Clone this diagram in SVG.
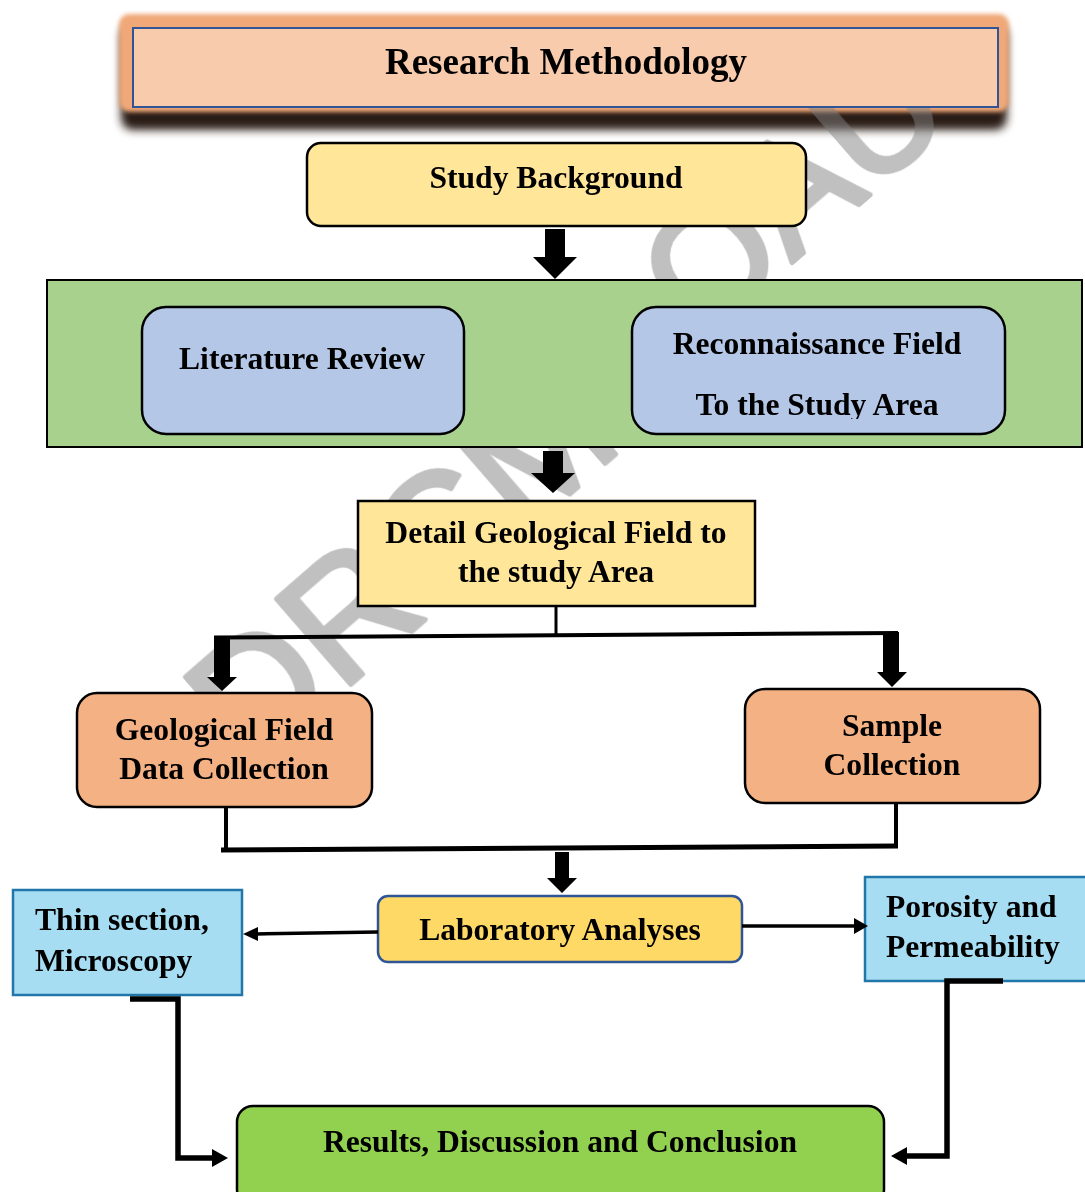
<svg xmlns="http://www.w3.org/2000/svg" width="1085" height="1192" viewBox="0 0 1085 1192">
<defs>
<style>
.t{font-family:"Liberation Serif","Times New Roman",serif;font-weight:bold;font-size:31.6px;fill:#000}
.c{text-anchor:middle}
.k{stroke:#000;stroke-width:2.5}
.ln{fill:none;stroke:#000}
.blk{fill:#000;stroke:none}
.wm{font-family:"Liberation Sans",Arial,sans-serif;font-size:166px;fill:#808080;stroke:#808080;stroke-width:5;stroke-linejoin:round}
</style>
<filter id="b4" x="-10%" y="-50%" width="120%" height="200%"><feGaussianBlur stdDeviation="4"/></filter>
<filter id="b2" x="-10%" y="-50%" width="120%" height="200%"><feGaussianBlur stdDeviation="2"/></filter>
<clipPath id="rc"><rect x="632" y="306" width="373" height="113"/></clipPath>
</defs>
<rect width="1085" height="1192" fill="#fff"/>
<g id="title-shadow">
<rect x="121" y="24" width="886" height="106" rx="12" fill="#2a1e16" filter="url(#b4)"/>
<rect x="119" y="14" width="890" height="98" rx="10" fill="#F0A878" filter="url(#b2)"/>
</g>
<g id="watermark" opacity="0.5">
<text class="wm" transform="translate(250,772) rotate(-41)">DRCM</text>
<text class="wm" transform="translate(700,342) rotate(-41)" style="font-size:156px">QAU</text>
</g>
<g id="title">
<rect x="133" y="28" width="865" height="79" fill="#F8CBAD" stroke="#2F5597" stroke-width="2"/>
<text class="t c" x="566" y="74" style="font-size:37px">Research Methodology</text>
</g>
<g id="study-background">
<rect class="k" x="307" y="143" width="499" height="83" rx="14" fill="#FFE699"/>
<text class="t c" x="556" y="188">Study Background</text>
</g>
<g id="preliminary">
<rect x="47" y="280" width="1035" height="167" fill="#A9D18E" stroke="#000" stroke-width="2"/>
</g>
<g id="literature-review">
<rect class="k" x="142" y="307" width="322" height="127" rx="24" fill="#B4C7E7"/>
<text class="t c" x="302" y="369">Literature Review</text>
</g>
<g id="reconnaissance">
<rect class="k" x="632" y="307" width="373" height="127" rx="24" fill="#B4C7E7"/>
<text class="t c" x="817" y="354">Reconnaissance Field</text>
<text class="t c" x="817" y="415" clip-path="url(#rc)">To the Study Area</text>
</g>
<g id="detail-field">
<rect class="k" x="358" y="501" width="397" height="105" fill="#FFE699"/>
<text class="t c" x="556" y="543">Detail Geological Field to</text>
<text class="t c" x="556" y="582">the study Area</text>
</g>
<g id="field-data">
<rect class="k" x="77" y="693" width="295" height="114" rx="20" fill="#F4B183"/>
<text class="t c" x="224" y="740">Geological Field</text>
<text class="t c" x="224" y="779">Data Collection</text>
</g>
<g id="sample-collection">
<rect class="k" x="745" y="689" width="295" height="114" rx="20" fill="#F4B183"/>
<text class="t c" x="892" y="736">Sample</text>
<text class="t c" x="892" y="775">Collection</text>
</g>
<g id="laboratory">
<rect x="378" y="896" width="364" height="66" rx="10" fill="#FFD966" stroke="#2F5597" stroke-width="2.5"/>
<text class="t c" x="560" y="940">Laboratory Analyses</text>
</g>
<g id="thin-section">
<rect x="13" y="890" width="229" height="105" fill="#A6DDF3" stroke="#2277AA" stroke-width="2.5"/>
<text class="t" x="35" y="930">Thin section,</text>
<text class="t" x="35" y="971">Microscopy</text>
</g>
<g id="porosity">
<rect x="865" y="877" width="226" height="104" fill="#A6DDF3" stroke="#2277AA" stroke-width="2.5"/>
<text class="t" x="886" y="917">Porosity and</text>
<text class="t" x="886" y="957">Permeability</text>
</g>
<g id="results">
<rect class="k" x="237" y="1106" width="647" height="100" rx="16" fill="#92D050"/>
<text class="t c" x="560" y="1152">Results, Discussion and Conclusion</text>
</g>
<g id="connectors">
<polygon class="blk" points="545,229 565,229 565,257 577,257 555,279 533,257 545,257"/>
<polygon class="blk" points="543,451 563,451 563,473 575,473 553,493 531,473 543,473"/>
<line class="ln" x1="556" y1="607" x2="556" y2="637" stroke-width="3"/>
<path class="ln" d="M214,637.5 L898,633" stroke-width="4"/>
<polygon class="blk" points="214,636 230,636 230,677 237,677 222,691 207,677 214,677"/>
<polygon class="blk" points="883,632 899,632 899,672 907,672 892,687 877,672 883,672"/>
<line class="ln" x1="226" y1="807" x2="226" y2="849" stroke-width="4"/>
<line class="ln" x1="896" y1="803" x2="896" y2="846" stroke-width="4"/>
<path class="ln" d="M221,850 L898,846" stroke-width="5"/>
<polygon class="blk" points="555,852 569,852 569,878 577,878 562,893 547,878 555,878"/>
<path class="ln" d="M378,932 L256,934" stroke-width="3.5"/>
<polygon class="blk" points="243,934 258,927 258,941"/>
<path class="ln" d="M742,926 L855,926" stroke-width="3.5"/>
<polygon class="blk" points="868,926 854,918 854,934"/>
<path class="ln" d="M130,999 H178 V1158 H214" stroke-width="5.5"/>
<polygon class="blk" points="228,1158 212,1149 212,1167"/>
<path class="ln" d="M1003,981 H947 V1156 H905" stroke-width="5.5"/>
<polygon class="blk" points="891,1156 907,1147 907,1165"/>
</g>
</svg>
